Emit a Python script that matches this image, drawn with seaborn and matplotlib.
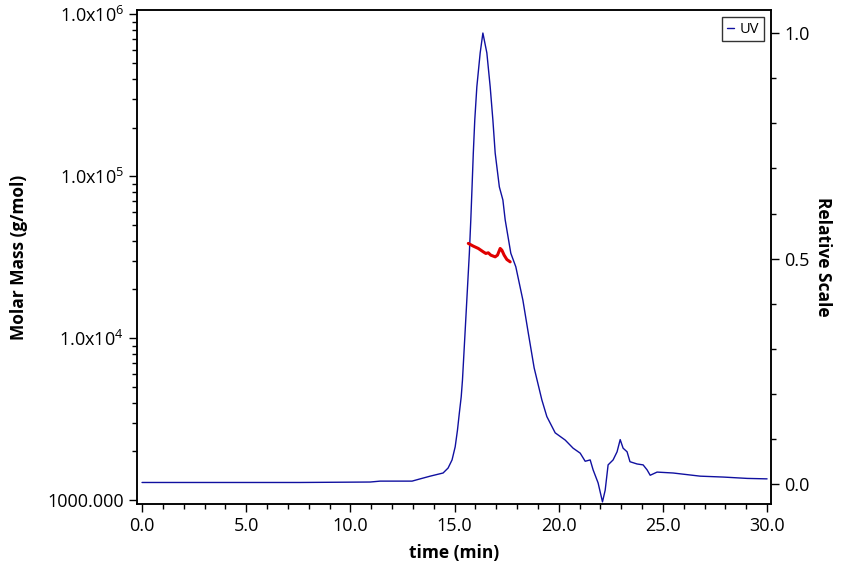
import numpy as np
import pandas as pd
import matplotlib
matplotlib.use('Agg')
import matplotlib.pyplot as plt
import seaborn as sns

# UV trace (relative scale)
uv_time = [0.00, 7.59, 10.95, 11.43, 12.96, 13.35, 13.83, 14.45, 14.69, 14.88,
           15.03, 15.14, 15.23, 15.32, 15.38, 15.51, 15.71, 15.78, 15.84, 15.90,
           15.97, 16.07, 16.23, 16.36, 16.55, 16.71, 16.84, 16.95, 17.15, 17.32,
           17.43, 17.70, 17.94, 18.28, 18.54, 18.82, 19.19, 19.43, 19.83, 20.31,
           20.69, 21.03, 21.27, 21.51, 21.65, 21.89, 22.10, 22.23, 22.37, 22.61,
           22.80, 22.95, 23.09, 23.28, 23.42, 23.76, 24.05, 24.24, 24.39, 24.72,
           25.49, 26.79, 27.90, 29.05, 30.00]
uv_signal = [0.004, 0.004, 0.005, 0.007, 0.007, 0.012, 0.018, 0.025, 0.036, 0.054,
             0.083, 0.120, 0.158, 0.194, 0.231, 0.341, 0.512, 0.586, 0.659, 0.734,
             0.807, 0.881, 0.956, 1.000, 0.956, 0.881, 0.807, 0.734, 0.659, 0.630,
             0.586, 0.512, 0.482, 0.408, 0.335, 0.258, 0.187, 0.150, 0.114, 0.098,
             0.080, 0.069, 0.051, 0.054, 0.032, 0.003, -0.039, -0.013, 0.043, 0.054,
             0.072, 0.099, 0.080, 0.072, 0.050, 0.045, 0.043, 0.032, 0.020, 0.027,
             0.025, 0.018, 0.016, 0.013, 0.012]

# molar mass across the peak (g/mol)
mm_time = [15.66, 15.90, 16.14, 16.38, 16.50, 16.62, 16.74, 16.95, 17.06, 17.19,
           17.27, 17.38, 17.51, 17.67]
mm_value = [38460, 37000, 35800, 34100, 33350, 33650, 32540, 31770, 32540, 35800,
            34950, 32540, 30600, 29590]

sns.set_style('ticks')
plt.rcParams['font.family'] = ['Open Sans', 'DejaVu Sans']
plt.rcParams['text.color'] = 'black'
plt.rcParams['axes.labelcolor'] = 'black'
plt.rcParams['xtick.color'] = 'black'
plt.rcParams['ytick.color'] = 'black'

uv = pd.DataFrame({'time': uv_time, 'signal': uv_signal})
mm = pd.DataFrame({'time': mm_time, 'mass': mm_value})

fig = plt.figure(figsize=(8.64, 5.76), dpi=100)
ax = fig.add_axes([0.1586, 0.125, 0.7338, 0.8576])
ax2 = ax.twinx()

# UV on the right axis
sns.lineplot(data=uv, x='time', y='signal', ax=ax2, color='#1010a0', linewidth=1.0,
             label='UV', sort=False)
ax2.set_ylim(-0.0437, 1.051)
ax2.set_yticks([0.0, 0.5, 1.0])
ax2.set_yticklabels(['0.0', '0.5', '1.0'])
ax2.set_yticks(np.arange(0, 1.01, 0.1), minor=True)
ax2.set_ylabel('Relative Scale', rotation=270, labelpad=16, fontsize=12.5,
               fontweight='bold')

# molar mass on the left (log) axis
sns.lineplot(data=mm, x='time', y='mass', ax=ax, color='#e00000', linewidth=2.2, sort=False)
ax.set_yscale('log')
ax.set_ylim(10 ** 2.975, 10 ** 6.027)
ax.set_yticks([1e3, 1e4, 1e5, 1e6])
ax.set_yticklabels(['1000.000', r'$\mathregular{1.0x10^{4}}$',
                    r'$\mathregular{1.0x10^{5}}$', r'$\mathregular{1.0x10^{6}}$'])
ax.set_zorder(ax2.get_zorder() + 1)
ax.patch.set_visible(False)

ax.set_xlim(-0.24, 30.19)
ax.set_xticks(np.arange(0, 30.1, 5))
ax.set_xticklabels([f'{v:.1f}' for v in np.arange(0, 30.1, 5)])
ax.set_xticks(np.arange(0, 30.1, 1), minor=True)
ax.set_xlabel('time (min)', fontsize=12.5, fontweight='bold', labelpad=6)
ax.set_ylabel('Molar Mass (g/mol)', fontsize=12.5, fontweight='bold', labelpad=14)

for a in (ax, ax2):
    a.tick_params(which='major', length=6, width=1, labelsize=13, color='black')
    a.tick_params(which='minor', length=3.5, width=1, color='black')
    for s in a.spines.values():
        s.set_visible(True)
        s.set_linewidth(1.1)
        s.set_color('black')
ax.tick_params(axis='x', top=False)

leg = ax2.legend(loc='upper right', handlelength=0.5, handletextpad=0.4,
                 fontsize=10.5, frameon=True, fancybox=False, borderpad=0.3,
                 borderaxespad=0.5)
leg.get_frame().set_edgecolor('black')
leg.get_frame().set_linewidth(1.0)

fig.savefig('out.png', dpi=100)
